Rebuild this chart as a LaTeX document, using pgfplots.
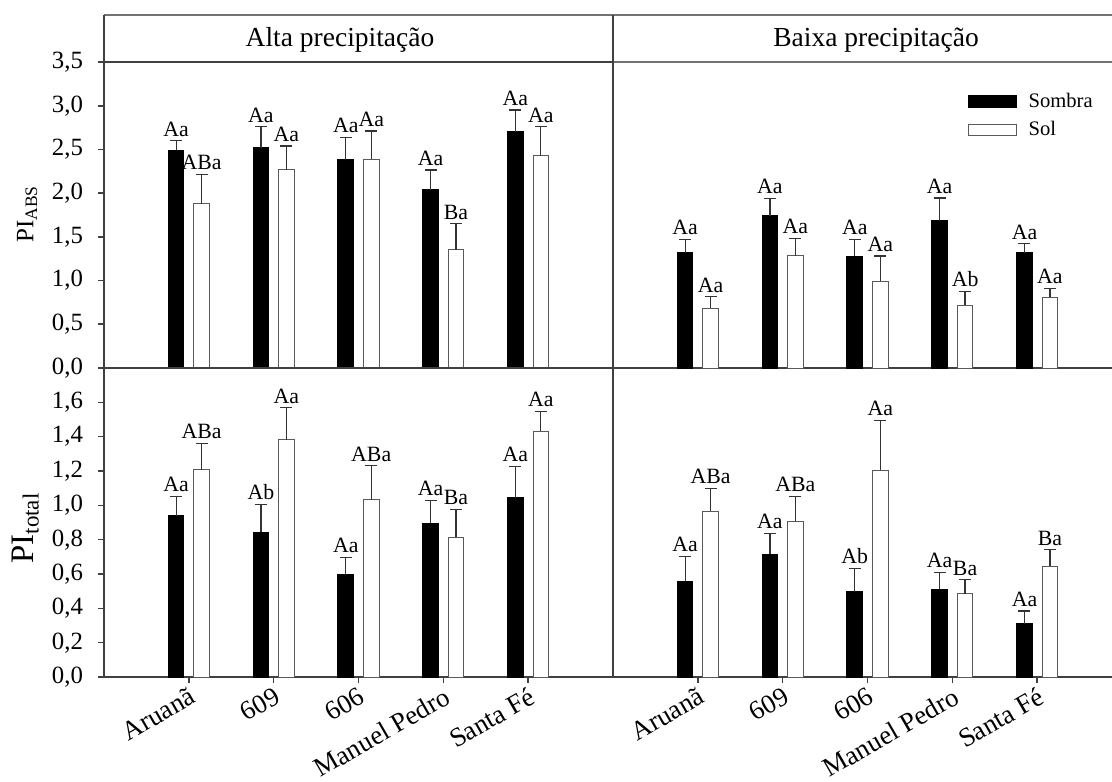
\documentclass[border=0pt]{standalone}
\usepackage{fontspec}
\setmainfont{Liberation Serif}
\usepackage{pgfplots}
\pgfplotsset{compat=1.18}
\usepackage{pgfplotstable}

\newcommand\tck{\fontsize{12.4}{14}\selectfont}
\newcommand\hdr{\fontsize{13.75}{16}\selectfont}
\newcommand\lab{\fontsize{10.9}{12}\selectfont}
\newcommand\cat{\fontsize{13.4}{15}\selectfont}

% PI_ABS, Alta precipitacao
\pgfplotstableread{
x S eS lS W eW lW
1 2.49 0.11 Aa 1.88 0.335 ABa
2 2.52 0.24 Aa 2.27 0.27 Aa
3 2.38 0.26 Aa 2.39 0.32 Aa
4 2.04 0.225 Aa 1.35 0.30 Ba
5 2.70 0.25 Aa 2.43 0.33 Aa
}\tabTL
% PI_ABS, Baixa precipitacao
\pgfplotstableread{
x S eS lS W eW lW
1 1.32 0.15 Aa 0.686 0.13 Aa
2 1.74 0.20 Aa 1.285 0.195 Aa
3 1.28 0.19 Aa 0.99 0.29 Aa
4 1.685 0.26 Aa 0.717 0.16 Ab
5 1.32 0.10 Aa 0.81 0.10 Aa
}\tabTR
% PI_total, Alta precipitacao
\pgfplotstableread{
x S eS lS W eW lW
1 0.939 0.112 Aa 1.206 0.155 ABa
2 0.844 0.163 Ab 1.383 0.186 Aa
3 0.600 0.096 Aa 1.032 0.198 ABa
4 0.896 0.134 Aa 0.815 0.162 Ba
5 1.045 0.181 Aa 1.431 0.117 Aa
}\tabBL
% PI_total, Baixa precipitacao
\pgfplotstableread{
x S eS lS W eW lW
1 0.559 0.143 Aa 0.966 0.132 ABa
2 0.714 0.124 Aa 0.908 0.143 ABa
3 0.497 0.135 Ab 1.204 0.291 Aa
4 0.510 0.101 Aa 0.485 0.082 Ba
5 0.310 0.074 Aa 0.644 0.097 Ba
}\tabBR

\pgfplotsset{
  panel/.style={
    scale only axis, clip=false, xmin=0, ymin=0,
    axis line style={draw=black!75, line width=0.8pt},
    tick style={draw=black!75, line width=0.8pt},
    tick align=outside, major tick length=3pt,
    xtick pos=bottom, ytick pos=left,
    ticklabel style={font=\tck},
    yticklabel style={xshift=-4pt},
    /pgf/number format/use comma,
    /pgf/number format/fixed,
    /pgf/number format/fixed zerofill,
    /pgf/number format/precision=1,
    /pgf/number format/assume math mode=true,
  },
  ebar/.style={error bars/.cd, y dir=plus, y explicit,
    error bar style={line width=0.6pt, draw=black!80},
    error mark options={rotate=90, mark size=3pt, line width=0.6pt, draw=black!80}},
}

\newcommand\bars[1]{%
  \addplot[ybar, bar width=0.185, bar shift=0pt, fill=black, draw=black, line width=0.5pt, forget plot, ebar]
    table[x expr=\thisrow{x}-0.15, y=S, y error=eS]{#1};
  \addplot[ybar, bar width=0.185, bar shift=0pt, fill=white, draw=black!65, line width=0.5pt, forget plot, ebar]
    table[x expr=\thisrow{x}+0.15, y=W, y error=eW]{#1};
  \addplot[draw=none, mark=none, forget plot, nodes near coords, point meta=explicit symbolic,
    nodes near coords style={font=\lab, anchor=south, inner sep=0pt, yshift=2pt}]
    table[x expr=\thisrow{x}-0.15, y expr=\thisrow{S}+\thisrow{eS}, meta=lS]{#1};
  \addplot[draw=none, mark=none, forget plot, nodes near coords, point meta=explicit symbolic,
    nodes near coords style={font=\lab, anchor=south, inner sep=0pt, yshift=2pt}]
    table[x expr=\thisrow{x}+0.15, y expr=\thisrow{W}+\thisrow{eW}, meta=lW]{#1};
}

\begin{document}
\begin{tikzpicture}
\useasboundingbox (0,0) rectangle (556pt,-390.5pt);

% header strip
\draw[black!55, line width=0.8pt] (52pt,-7.5pt) -- (556pt,-7.5pt);
\draw[black!55, line width=0.8pt] (52pt,-31pt) -- (556pt,-31pt);
\draw[black!75, line width=0.8pt] (52pt,-7.5pt) -- (52pt,-31pt);
\draw[black!75, line width=0.8pt] (306.5pt,-7.5pt) -- (306.5pt,-31pt);
\node[font=\hdr, anchor=base, inner sep=0pt] at (170pt,-23.35pt) {Alta precipitação};
\node[font=\hdr, anchor=base, inner sep=0pt] at (438pt,-23.35pt) {Baixa precipitação};

% y labels
\node[rotate=90, anchor=base, inner sep=0pt, font=\fontsize{12.5}{14}\selectfont] at (16.7pt,-107pt) {PI\textsubscript{ABS}};
\node[rotate=90, anchor=base, inner sep=0pt, font=\fontsize{16.4}{18}\selectfont] at (16.7pt,-264pt) {PI\textsubscript{total}};

% top left
\begin{axis}[panel, at={(52pt,-184pt)}, anchor=south west, width=254.5pt, height=153pt,
  xmax=6, ymax=3.5, ytick={0,0.5,1,1.5,2,2.5,3,3.5}, xtick=\empty]
  \bars{\tabTL}
\end{axis}

% top right
\begin{axis}[panel, at={(306.5pt,-184pt)}, anchor=south west, width=249.5pt, height=153pt,
  xmax=5.882, ymax=3.5, ytick=\empty, xtick=\empty,
  axis x line*=bottom, axis y line=none,
  legend style={draw=none, fill=none, at={(0.710,0.913)}, anchor=north west, inner sep=0pt,
    font=\fontsize{10.3}{12}\selectfont, row sep=1.6pt,
    nodes={inner sep=2pt},
    /tikz/every even column/.append style={column sep=0pt}},
  legend cell align=left,
  legend image code/.code={\draw[#1, line width=0.5pt] (0pt,-2.9pt) rectangle (24pt,2.9pt);
    \path (28pt,0pt);}]
  \bars{\tabTR}
  \addlegendimage{fill=black, draw=black}
  \addlegendentry{Sombra}
  \addlegendimage{fill=white, draw=black!65}
  \addlegendentry{Sol}
\end{axis}

% bottom left
\begin{axis}[panel, at={(52pt,-338.5pt)}, anchor=south west, width=254.5pt, height=154.5pt,
  xmax=6, ymax=1.8, ytick={0,0.2,0.4,0.6,0.8,1,1.2,1.4,1.6},
  xtick={1,2,3,4,5}, xticklabels={Aruanã,609,606,Manuel Pedro,Santa Fé},
  xticklabel style={font=\cat, rotate=30, anchor=north east, inner sep=1pt}]
  \bars{\tabBL}
\end{axis}

% bottom right
\begin{axis}[panel, at={(306.5pt,-338.5pt)}, anchor=south west, width=249.5pt, height=154.5pt,
  xmax=5.882, ymax=1.8, ytick=\empty,
  axis x line*=bottom, axis y line=none,
  xtick={1,2,3,4,5}, xticklabels={Aruanã,609,606,Manuel Pedro,Santa Fé},
  xticklabel style={font=\cat, rotate=30, anchor=north east, inner sep=1pt}]
  \bars{\tabBR}
\end{axis}
\end{tikzpicture}
\end{document}
